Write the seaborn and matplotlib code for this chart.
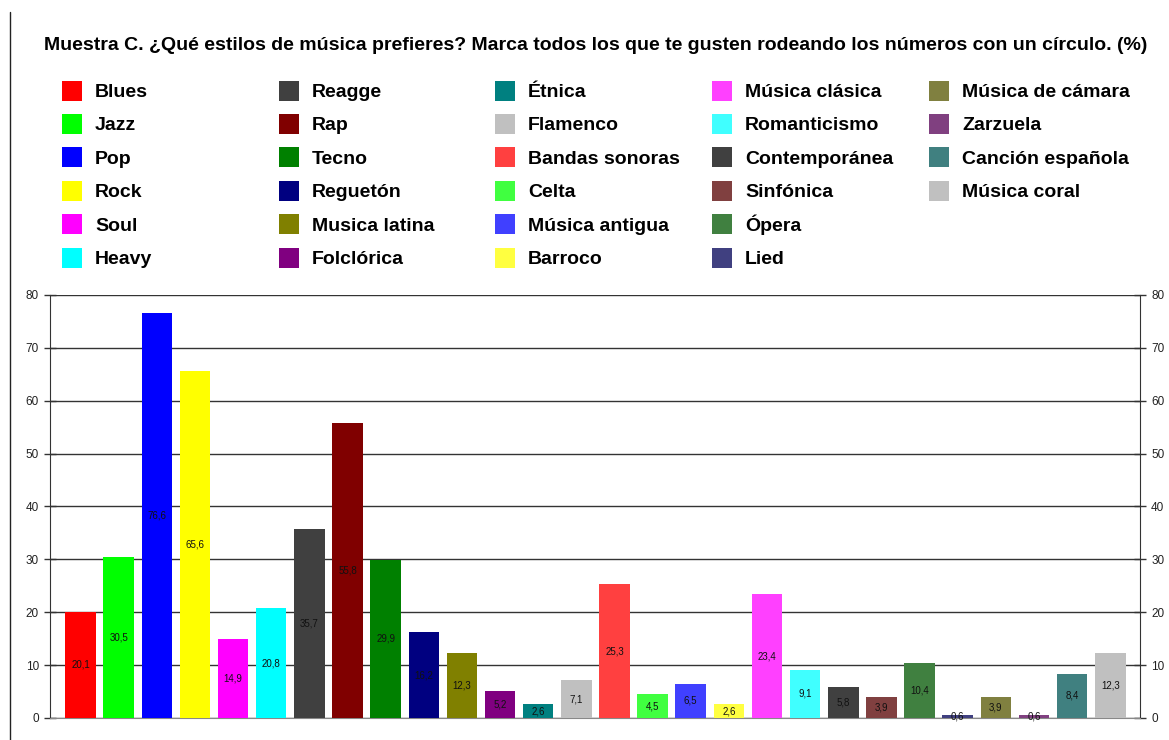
import matplotlib
matplotlib.use("Agg")
import matplotlib.pyplot as plt
from matplotlib.patches import Patch, Rectangle
from matplotlib.lines import Line2D
from matplotlib.legend_handler import HandlerPatch
import seaborn as sns
import pandas as pd

styles = [
    "Blues", "Jazz", "Pop", "Rock", "Soul", "Heavy",
    "Reagge", "Rap", "Tecno", "Reguetón", "Musica latina", "Folclórica",
    "Étnica", "Flamenco", "Bandas sonoras", "Celta", "Música antigua", "Barroco",
    "Música clásica", "Romanticismo", "Contemporánea", "Sinfónica", "Ópera", "Lied",
    "Música de cámara", "Zarzuela", "Canción española", "Música coral",
]
percent = [
    20.1, 30.5, 76.6, 65.6, 14.9, 20.8,
    35.7, 55.8, 29.9, 16.2, 12.3, 5.2,
    2.6, 7.1, 25.3, 4.5, 6.5, 2.6,
    23.4, 9.1, 5.8, 3.9, 10.4, 0.6,
    3.9, 0.6, 8.4, 12.3,
]
colors = [
    "#FF0000", "#00FF00", "#0000FF", "#FFFF00", "#FF00FF", "#00FFFF",
    "#404040", "#800000", "#008000", "#000080", "#808000", "#800080",
    "#008080", "#C0C0C0", "#FF4040", "#40FF40", "#4040FF", "#FFFF40",
    "#FF40FF", "#40FFFF", "#404040", "#804040", "#408040", "#404080",
    "#808040", "#804080", "#408080", "#C0C0C0",
]
y_ticks = [0, 10, 20, 30, 40, 50, 60, 70, 80]
title = "Muestra C. ¿Qué estilos de música prefieres? Marca todos los que te gusten rodeando los números con un círculo. (%)"

df = pd.DataFrame({"estilo": styles, "pct": percent})

sns.set_style("white")
plt.rcParams["font.family"] = ["Liberation Sans", "DejaVu Sans"]

W, H = 1169, 740
fig = plt.figure(figsize=(W / 100, H / 100), dpi=100)
ax = fig.add_axes([50 / W, 1 - 718 / H, (1140 - 50) / W, (718 - 295) / H])

palette = dict(zip(styles, colors))
sns.barplot(data=df, x="estilo", y="pct", hue="estilo", palette=palette,
            legend=False, width=0.8, saturation=1, ax=ax, zorder=3,
            edgecolor="none")

# value labels in the middle of each bar, decimal comma
for cont in ax.containers:
    ax.bar_label(cont, labels=[f"{v:.1f}".replace(".", ",") for v in cont.datavalues],
                 label_type="center", fontsize=7, color="#111111", zorder=5)

ax.set_xlim(-0.8, 27.78)
ax.set_ylim(0, 80)
ax.set_yticks(y_ticks)
ax.set_xticks([])
ax.set_xlabel("")
ax.set_ylabel("")
ax.yaxis.grid(True, color="#333333", linewidth=1)
ax.set_axisbelow(True)
ax.spines["top"].set_visible(False)
ax.spines["bottom"].set_color("#888888")
ax.spines["left"].set_color("#333333")
ax.spines["right"].set_color("#333333")
ax.tick_params(axis="y", which="both", left=True, right=True, labelleft=True,
               labelright=True, direction="inout", length=8, width=1,
               color="#333333", labelsize=8.5, labelcolor="#222222", pad=4)

# title
fig.text(596 / W, 1 - 46 / H, title, ha="center", va="center",
         fontsize=14, fontweight="bold", color="black")


# square legend swatches centred in a taller row box, so accented labels keep rows even
def square_swatch(legend, orig_handle, xdescent, ydescent, width, height, fontsize):
    side = 20 * 72 / 100
    return Rectangle((-xdescent, -ydescent + (height - side) / 2), width, side)


col_x = [62, 279, 495, 712, 929]
chunks = [styles[0:6], styles[6:12], styles[12:18], styles[18:24], styles[24:28]]
fs = 14
for cx, chunk in zip(col_x, chunks):
    handles = [Patch(facecolor=palette[s], edgecolor="none") for s in chunk]
    fig.legend(handles, chunk, loc="upper left",
               bbox_to_anchor=(cx / W, 1 - 79 / H), frameon=False,
               borderpad=0, borderaxespad=0,
               handlelength=20 / (fs * 100 / 72), handleheight=1.45,
               handletextpad=13 / (fs * 100 / 72),
               labelspacing=0.53, labelcolor="black",
               handler_map={Patch: HandlerPatch(patch_func=square_swatch)},
               prop={"size": fs, "weight": "bold"})

# page border on the left
fig.add_artist(Line2D([9.5 / W, 9.5 / W], [0, 1 - 12 / H], transform=fig.transFigure,
                      color="#222222", linewidth=1))

fig.savefig("out.png", dpi=100)
